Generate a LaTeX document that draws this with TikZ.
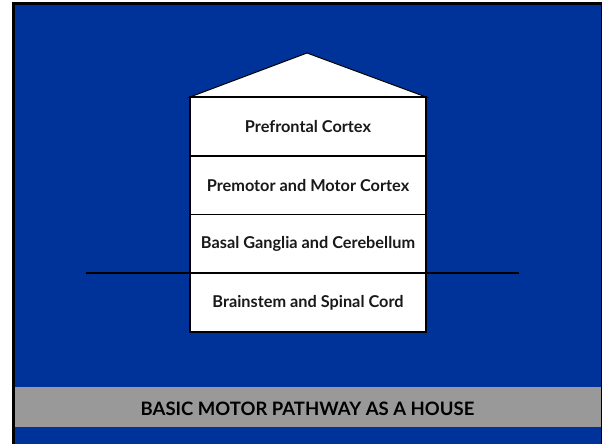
\documentclass[tikz,border=0pt]{standalone}
\usepackage{fontspec}
\setmainfont{Lato}
\definecolor{slideblue}{HTML}{003399}
\definecolor{bandgray}{HTML}{999999}
\begin{document}
\begin{tikzpicture}[x=1pt,y=-1pt,
  layer/.style={draw=black, line width=1.2pt, fill=white, minimum width=236pt, minimum height=59pt, inner sep=0pt, font=\bfseries\fontsize{16.3}{18}\selectfont, text=black!90},
  bandtext/.style={font=\bfseries\fontsize{18.5}{20}\selectfont, text=black}]
\useasboundingbox (0,0) rectangle (602,444);
\fill[white] (0,0) rectangle (602,444);
\fill[black] (12,2) rectangle (602,444);
\fill[slideblue] (15,5) rectangle (600.5,444);
% gray band
\fill[bandgray] (15,387) rectangle (600.5,427);
\node[bandtext] (title) at (307.5,409) {BASIC MOTOR PATHWAY AS A HOUSE};
% roof
\coordinate (roofL) at (190,97);
\coordinate (roofT) at (307,53);
\coordinate (roofR) at (426,97);
\draw[fill=white, line width=1pt, line join=miter] (roofL) -- (roofT) -- (roofR) -- cycle;
% layers
\node[layer] (pfc) at (308,126.5) {Prefrontal Cortex};
\node[layer] (pmc) at (308,185.5) {Premotor and Motor Cortex};
\node[layer] (bg) at (308,244) {Basal Ganglia and Cerebellum};
\node[layer] (bs) at (308,302.5) {Brainstem and Spinal Cord};
% ground line
\coordinate (gL) at (86,273);
\coordinate (gR) at (519,273);
\draw[line width=1.3pt] (gL) -- (gR);
\end{tikzpicture}
\end{document}
